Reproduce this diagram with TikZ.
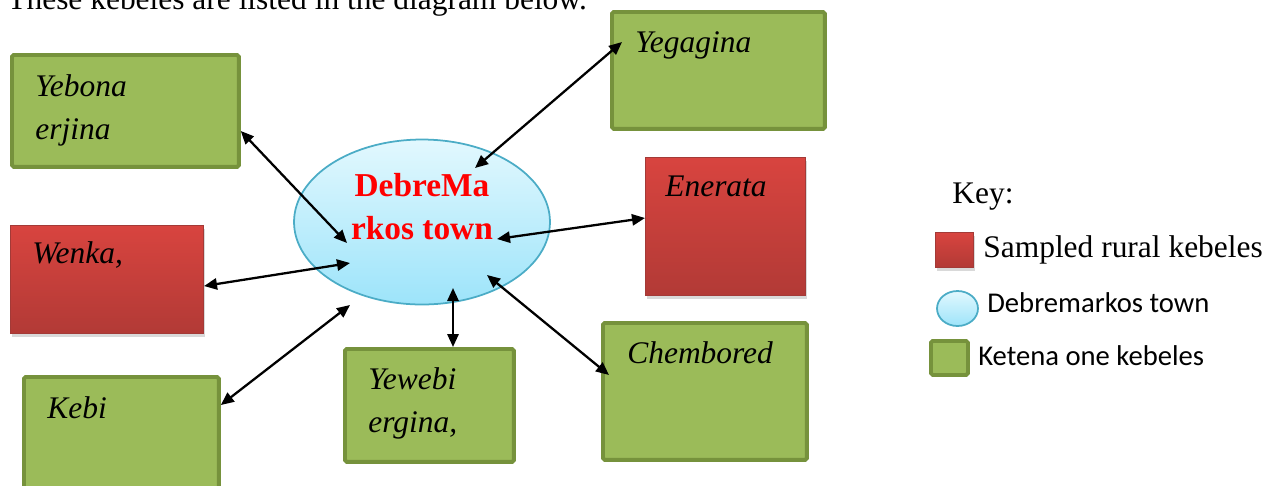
\documentclass[tikz,border=0pt]{standalone}
\usepackage{fontspec}
\setmainfont{Liberation Serif}
\newfontfamily\calibri{Carlito}
\usetikzlibrary{arrows.meta,shapes.geometric,shadows}
\definecolor{kgreen}{HTML}{9BBB59}
\definecolor{kgreenline}{HTML}{76923C}
\definecolor{kredtop}{HTML}{D8443F}
\definecolor{kredbot}{HTML}{B23A36}
\definecolor{kredline}{HTML}{A33A37}
\definecolor{townline}{HTML}{4BACC6}
\definecolor{towntop}{HTML}{E2F8FE}
\definecolor{townbot}{HTML}{9DE4FA}

\begin{document}
\begin{tikzpicture}[
x=0.02cm, y=-0.02cm,
greenbox/.style={draw=kgreenline, fill=kgreen, line width=2.2pt,
  rounded corners=1pt, anchor=north west, inner sep=0pt},
redbox/.style={draw=kredline, top color=kredtop, bottom color=kredbot,
  line width=0.6pt, anchor=north west, inner sep=0pt,
  drop shadow={shadow xshift=1pt, shadow yshift=-2pt, opacity=0.3}},
town/.style={ellipse, draw=townline, line width=1pt, top color=towntop,
  bottom color=townbot, inner sep=0pt},
boxtext/.style={anchor=base west, inner sep=0pt, align=left,
  font=\fontsize{17.9}{24}\selectfont\itshape},
keytext/.style={anchor=base west, inner sep=0pt},
link/.style={{Triangle[length=7.4pt,width=6.4pt]}-{Triangle[length=7.4pt,width=6.4pt]},
  line width=1.3pt, black},
]
\useasboundingbox (0,0) rectangle (1278,485);
\clip (0,0) rectangle (1278,485);

\node[keytext, font=\fontsize{17.9}{22}\selectfont] (intro) at (7,9)
  {These kebeles are listed in the diagram below.};

\node[greenbox, minimum width=4.54cm, minimum height=2.24cm] (yeb) at (10,53) {};
\node[greenbox, minimum width=4.26cm, minimum height=2.34cm] (yeg) at (610,10) {};
\node[redbox, minimum width=3.86cm, minimum height=2.16cm] (wen) at (10,225) {};
\node[redbox, minimum width=3.2cm, minimum height=2.76cm] (ene) at (645,157) {};
\node[greenbox, minimum width=3.9cm, minimum height=2.4cm] (keb) at (22,375) {};
\node[greenbox, minimum width=3.38cm, minimum height=2.26cm] (yew) at (343,347) {};
\node[greenbox, minimum width=4.08cm, minimum height=2.74cm] (che) at (601,321) {};

\node[boxtext] (yeb-t) at (35,139) {Yebona\\erjina};
\node[boxtext] (yeg-t) at (635,52) {Yegagina};
\node[boxtext] (wen-t) at (32,263) {Wenka,};
\node[boxtext] (ene-t) at (665,196) {Enerata};
\node[boxtext] (keb-t) at (47,418) {Kebi};
\node[boxtext] (yew-t) at (368,432) {Yewebi\\ergina,};
\node[boxtext] (che-t) at (627,363) {Chembored};

\node[town, minimum width=5.12cm, minimum height=3.3cm] (dm) at (422,222) {};
\node[align=center, text=red, inner sep=0pt, anchor=base,
  font=\fontsize{19}{24}\selectfont\bfseries] (dm-t) at (422,239)
  {DebreMa\\rkos town};

\coordinate (dm-yeb) at (347,243);
\coordinate (dm-yeg) at (475,168);
\coordinate (dm-wen) at (350,263);
\coordinate (dm-ene) at (497,239);
\coordinate (dm-keb) at (350,305);
\coordinate (dm-yew) at (453,288);
\coordinate (dm-che) at (487,275);
\coordinate (yeg-in) at (622,42);
\coordinate (che-in) at (609,375);

\draw[link] (yeb.east |- 0,131) -- (dm-yeb);
\draw[link] (yeg-in) -- (dm-yeg);
\draw[link] (wen.east |- 0,286) -- (dm-wen);
\draw[link] (ene.west |- 0,218) -- (dm-ene);
\draw[link] (keb.east |- 0,405) -- (dm-keb);
\draw[link] (dm-yew |- yew.north) -- (dm-yew);
\draw[link] (che-in) -- (dm-che);

\node[keytext, font=\fontsize{17.9}{22}\selectfont] (key) at (952,203) {Key:};
\node[redbox, minimum width=0.76cm, minimum height=0.7cm] (key-red) at (935,232) {};
\node[keytext, font=\fontsize{17.9}{22}\selectfont] (key-red-t) at (983,257)
  {Sampled rural kebeles};
\node[town, minimum width=0.82cm, minimum height=0.7cm] (key-town) at (957.5,308.5) {};
\node[keytext, font=\calibri\fontsize{16.3}{20}\selectfont] (key-town-t) at (987,312)
  {Debremarkos town};
\node[greenbox, minimum width=0.74cm, minimum height=0.68cm] (key-green) at (929,339) {};
\node[keytext, font=\calibri\fontsize{16.3}{20}\selectfont] (key-green-t) at (978,365)
  {Ketena one kebeles};
\end{tikzpicture}
\end{document}
